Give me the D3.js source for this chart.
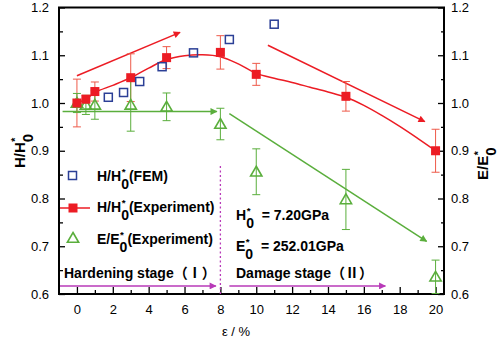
<!DOCTYPE html>
<html><head><meta charset="utf-8">
<script src="https://cdn.jsdelivr.net/npm/d3@7"></script>
<style>body{margin:0;background:#fff}svg{display:block}text{white-space:pre}</style>
</head><body><svg id="c" width="500" height="339"></svg>
<script>
// ---------- data ----------
const xTicks = [0, 2, 4, 6, 8, 10, 12, 14, 16, 18, 20];
const yTicks = [0.6, 0.7, 0.8, 0.9, 1.0, 1.1, 1.2];
const yTickLabels = ["0.6", "0.7", "0.8", "0.9", "1.0", "1.1", "1.2"];

const femStrain = [1.75, 2.6, 3.5, 4.75, 6.5, 8.5, 11];
const femH = [1.012, 1.022, 1.045, 1.076, 1.105, 1.133, 1.165];

const expStrain = [0, 0.5, 1, 3, 5, 8, 10, 15, 20];
const expH = [1.0, 1.008, 1.024, 1.053, 1.095, 1.106, 1.06, 1.014, 0.9];
const expHErr = [0.05, 0.008, 0.02, 0.05, 0.023, 0.035, 0.023, 0.031, 0.045];

const modStrain = [0, 0.5, 1, 3, 5, 8, 10, 15, 20];
const modE = [1.0, 0.996, 0.996, 0.996, 0.992, 0.956, 0.856, 0.798, 0.636];
const modEErr = [0.02, 0.02, 0.03, 0.055, 0.029, 0.033, 0.048, 0.063, 0.035];

const fitStrain = [0, 0.5, 1, 2, 3, 4, 5, 6, 7, 8, 9, 10, 11, 12, 13, 14, 15, 16, 17, 18, 19, 20];
const fitH = [1.0, 1.008, 1.022, 1.037, 1.053, 1.073, 1.091, 1.099, 1.101, 1.097, 1.082, 1.062, 1.052, 1.043, 1.033, 1.023, 1.012, 0.995, 0.974, 0.951, 0.926, 0.9];

// annotation arrows: [x0, y0, x1, y1] in data units
const redArrows = [[0, 1.057, 5.75, 1.148], [10.65, 1.121, 19.4, 0.961]];
const greenArrows = [[-0.8, 0.982, 7.8, 0.982], [8.5, 0.978, 19.5, 0.71]];
const stageArrows = [[-1, 0.617, 7.75, 0.617], [8.5, 0.617, 17.2, 0.617]];
const stageBoundary = [8, 0.868, 0.6];

// ---------- layout ----------
const L = 59, R = 444, T = 7.5, B = 294;
const svg = d3.select("#c");
const x = d3.scaleLinear().domain([-1, 20.47]).range([L, R]);
const y = d3.scaleLinear().domain([0.6, 1.2]).range([B, T]);

const RED = "#ec1c24", RED_L = "#ee5a4a", BLUE = "#2b3f96", GREEN = "#5aae3c", MAG = "#b83ab8";
const FONT = "Arial, 'Liberation Sans', sans-serif";
const CJK = "'Noto Sans CJK SC', sans-serif";

// arrow markers
const defs = svg.append("defs");
function marker(id, color) {
  defs.append("marker").attr("id", id).attr("viewBox", "0 0 10 10")
    .attr("refX", 9).attr("refY", 5).attr("markerWidth", 9).attr("markerHeight", 7)
    .attr("markerUnits", "userSpaceOnUse").attr("orient", "auto")
    .append("path").attr("d", "M0,0 L10,5 L0,10 Z").attr("fill", color);
}
marker("mr", RED); marker("mg", GREEN); marker("mm", MAG);

// ---------- axes ----------
const gB = svg.append("g").attr("transform", `translate(0,${B})`)
  .call(d3.axisBottom(x).tickValues(xTicks).tickSize(-7).tickPadding(11).tickSizeOuter(0));
const gBm = svg.append("g").attr("transform", `translate(0,${B})`)
  .call(d3.axisBottom(x).tickValues(d3.range(1, 20, 2)).tickSize(-4).tickFormat("").tickSizeOuter(0));
const gL = svg.append("g").attr("transform", `translate(${L},0)`)
  .call(d3.axisLeft(y).tickValues(yTicks).tickFormat((d, i) => yTickLabels[i]).tickSize(-6).tickPadding(10).tickSizeOuter(0));
const gLm = svg.append("g").attr("transform", `translate(${L},0)`)
  .call(d3.axisLeft(y).tickValues([0.65, 0.75, 0.85, 0.95, 1.05, 1.15]).tickSize(-4).tickFormat("").tickSizeOuter(0));
const gR = svg.append("g").attr("transform", `translate(${R},0)`)
  .call(d3.axisRight(y).tickValues(yTicks).tickFormat((d, i) => yTickLabels[i]).tickSize(-6).tickPadding(7).tickSizeOuter(0));
const gRm = svg.append("g").attr("transform", `translate(${R},0)`)
  .call(d3.axisRight(y).tickValues([0.65, 0.75, 0.85, 0.95, 1.05, 1.15]).tickSize(-3).tickFormat("").tickSizeOuter(0));
[gB, gBm, gL, gLm, gR, gRm].forEach(g => {
  g.select(".domain").remove();
  g.selectAll("line").attr("stroke", "#000").attr("stroke-width", 1.3);
  g.selectAll("text").attr("font-family", FONT).attr("font-size", 13).attr("fill", "#000");
});
gR.selectAll("text").attr("x", 7);
gB.selectAll("text").attr("y", 11);
// frame
svg.append("rect").attr("x", L).attr("y", T).attr("width", R - L).attr("height", B - T)
  .attr("fill", "none").attr("stroke", "#000").attr("stroke-width", 2);

// ---------- fitted curve ----------
svg.append("path").datum(fitStrain.map((s, i) => [s, fitH[i]]))
  .attr("d", d3.line().x(d => x(d[0])).y(d => y(d[1])).curve(d3.curveCatmullRom))
  .attr("fill", "none").attr("stroke", RED).attr("stroke-width", 1.5);

// ---------- annotation arrows ----------
function arrows(data, color, mk) {
  svg.append("g").selectAll("line").data(data).join("line")
    .attr("x1", d => Math.max(L + 1, x(d[0]))).attr("y1", d => y(d[1]))
    .attr("x2", d => x(d[2])).attr("y2", d => y(d[3]))
    .attr("stroke", color).attr("stroke-width", 1.5).attr("marker-end", `url(#${mk})`);
}
arrows(redArrows, RED, "mr");
arrows(greenArrows, GREEN, "mg");
arrows(stageArrows, MAG, "mm");
svg.append("line").attr("x1", x(stageBoundary[0])).attr("x2", x(stageBoundary[0]))
  .attr("y1", y(stageBoundary[1])).attr("y2", y(stageBoundary[2]))
  .attr("stroke", MAG).attr("stroke-width", 1.3).attr("stroke-dasharray", "2,2.5");

// ---------- error bars ----------
function errBars(xs, ys, es, color) {
  const g = svg.append("g").attr("stroke", color).attr("stroke-width", 1);
  xs.forEach((s, i) => {
    const cx = x(s), y1 = y(ys[i] + es[i]), y2 = y(Math.max(0.6, ys[i] - es[i]));
    g.append("line").attr("x1", cx).attr("x2", cx).attr("y1", y1).attr("y2", y2);
    g.append("line").attr("x1", cx - 4).attr("x2", cx + 4).attr("y1", y1).attr("y2", y1);
    if (ys[i] - es[i] > 0.6) g.append("line").attr("x1", cx - 4).attr("x2", cx + 4).attr("y1", y2).attr("y2", y2);
  });
}
errBars(expStrain, expH, expHErr, RED_L);
errBars(modStrain, modE, modEErr, GREEN);

// ---------- markers ----------
const tri = d3.symbol().type(d3.symbolTriangle).size(55);
svg.append("g").selectAll("path").data(modStrain.map((s, i) => [s, modE[i]])).join("path")
  .attr("d", tri).attr("transform", d => `translate(${x(d[0])},${y(d[1]) + 1})`)
  .attr("fill", "none").attr("stroke", GREEN).attr("stroke-width", 1.6);
svg.append("g").selectAll("rect").data(expStrain.map((s, i) => [s, expH[i]])).join("rect")
  .attr("x", d => x(d[0]) - 4.5).attr("y", d => y(d[1]) - 4.5).attr("width", 9).attr("height", 9)
  .attr("fill", RED);
svg.append("g").selectAll("rect").data(femStrain.map((s, i) => [s, femH[i]])).join("rect")
  .attr("x", d => x(d[0]) - 4).attr("y", d => y(d[1]) - 4).attr("width", 8).attr("height", 8)
  .attr("fill", "none").attr("stroke", BLUE).attr("stroke-width", 1.5);

// ---------- rich text helper (stacked * and 0) ----------
function rich(g, parts, size, weight) {
  let cx = 0;
  parts.forEach(p => {
    if (p.t) {
      const t = g.append("text").attr("x", cx).attr("y", 0).attr("font-family", p.f || FONT)
        .attr("font-size", size).attr("font-weight", weight).text(p.t);
      cx += t.node().getComputedTextLength();
    } else {
      const a = g.append("text").attr("x", cx + 0.5).attr("y", -size * 0.42).attr("font-family", FONT)
        .attr("font-size", size * 0.7).attr("font-weight", weight).text("*");
      const b = g.append("text").attr("x", cx).attr("y", size * 0.55).attr("font-family", FONT)
        .attr("font-size", size).attr("font-weight", weight).text("0");
      cx += Math.max(a.node().getComputedTextLength(), b.node().getComputedTextLength());
    }
  });
  return cx;
}

// legend
const lg = svg.append("g");
lg.append("rect").attr("x", 68.5).attr("y", 171.5).attr("width", 8).attr("height", 8)
  .attr("fill", "none").attr("stroke", BLUE).attr("stroke-width", 1.5);
rich(lg.append("g").attr("transform", "translate(97,181)"), [{ t: "H/H" }, { s: 1 }, { t: "(FEM)" }], 14, "bold");
lg.append("line").attr("x1", 60).attr("x2", 90).attr("y1", 208).attr("y2", 208).attr("stroke", RED).attr("stroke-width", 1.5);
lg.append("rect").attr("x", 68.5).attr("y", 203.5).attr("width", 9).attr("height", 9).attr("fill", RED);
rich(lg.append("g").attr("transform", "translate(97,212)"), [{ t: "H/H" }, { s: 1 }, { t: "(Experiment)" }], 14, "bold");
lg.append("path").attr("d", tri).attr("transform", "translate(73,239)")
  .attr("fill", "none").attr("stroke", GREEN).attr("stroke-width", 1.6);
rich(lg.append("g").attr("transform", "translate(97,244)"), [{ t: "E/E" }, { s: 1 }, { t: "(Experiment)" }], 14, "bold");

// constants
rich(svg.append("g").attr("transform", "translate(236,220)"), [{ t: "H" }, { s: 1 }, { t: "  = 7.20GPa" }], 14, "bold");
rich(svg.append("g").attr("transform", "translate(236,251)"), [{ t: "E" }, { s: 1 }, { t: "  = 252.01GPa" }], 14, "bold");

// stage labels
rich(svg.append("g").attr("transform", "translate(64,278)"), [{ t: "Hardening stage" }, { t: "（Ⅰ）", f: CJK }], 14, "bold");
rich(svg.append("g").attr("transform", "translate(236,278)"), [{ t: "Damage stage" }, { t: "（Ⅱ）", f: CJK }], 14, "bold");

// axis titles
svg.append("text").attr("x", 236).attr("y", 336).attr("text-anchor", "middle").attr("font-family", FONT)
  .attr("font-size", 13).text("ε / %");
rich(svg.append("g").attr("transform", "translate(25,168) rotate(-90)"), [{ t: "H/H" }, { s: 1 }], 15, "bold");
rich(svg.append("g").attr("transform", "translate(488,180) rotate(-90)"), [{ t: "E/E" }, { s: 1 }], 15, "bold");
</script></body></html>
